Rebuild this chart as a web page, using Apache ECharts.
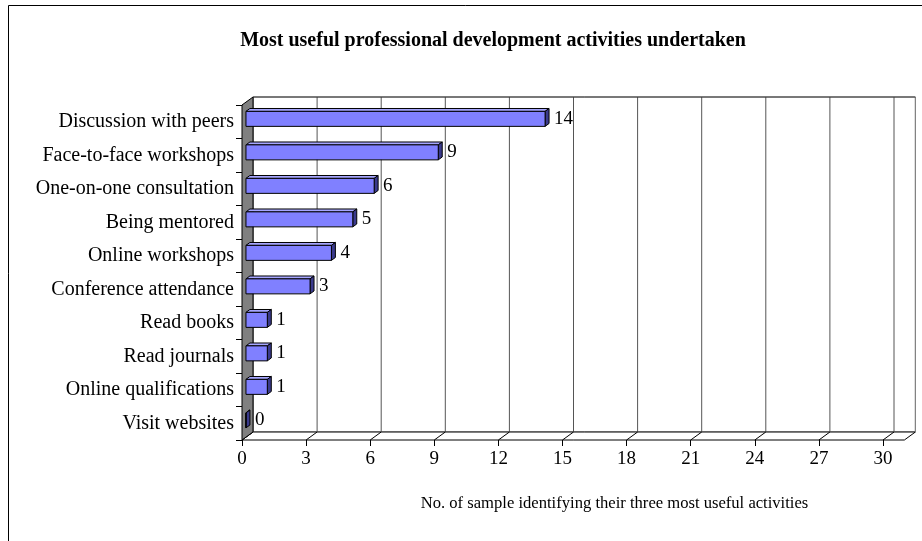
<!DOCTYPE html>
<html>
<head>
<meta charset="utf-8">
<script src="https://cdn.jsdelivr.net/npm/echarts@6/dist/echarts.min.js"></script>
<style>html,body{margin:0;padding:0;background:#fff;}#c{width:922px;height:541px;}</style>
</head>
<body>
<div id="c"></div>
<script>
var categories = ["Discussion with peers","Face-to-face workshops","One-on-one consultation","Being mentored","Online workshops","Conference attendance","Read books","Read journals","Online qualifications","Visit websites"];
var values = [14, 9, 6, 5, 4, 3, 1, 1, 1, 0];
var xTicks = [0, 3, 6, 9, 12, 15, 18, 21, 24, 27, 30];
var wallExtent = 31;

var DX = 11, DY = -8;
var F1 = 0.36, F2 = 0.72;
var BAR_H = 15;
var FONT = '"Liberation Serif","Times New Roman",serif';

var chart = echarts.init(document.getElementById('c'), null, {renderer: 'canvas'});

function frameRender(params, api) {
  var cs = params.coordSys;
  var top = cs.y, bottom = cs.y + cs.height;
  function X(v) { return api.coord([v, 0])[0]; }
  var x0 = X(0), xe = X(wallExtent);
  var children = [];
  children.push({type: 'rect', shape: {x: x0 + DX, y: top + DY, width: xe - x0, height: bottom - top}, style: {fill: '#fff', stroke: '#808080', lineWidth: 1}});
  children.push({type: 'polygon', shape: {points: [[x0, bottom], [xe, bottom], [xe + DX, bottom + DY], [x0 + DX, bottom + DY]]}, style: {fill: '#fff', stroke: '#000', lineWidth: 1}});
  xTicks.forEach(function (v) {
    var x = X(v);
    children.push({type: 'line', shape: {x1: x + DX, y1: top + DY, x2: x + DX, y2: bottom + DY}, style: {stroke: '#555', lineWidth: 1}});
    children.push({type: 'line', shape: {x1: x, y1: bottom, x2: x + DX, y2: bottom + DY}, style: {stroke: '#000', lineWidth: 1}});
  });
  children.push({type: 'line', shape: {x1: xe + DX, y1: top + DY, x2: xe + DX, y2: bottom + DY}, style: {stroke: '#808080', lineWidth: 1}});
  children.push({type: 'line', shape: {x1: x0 + DX, y1: top + DY, x2: xe + DX, y2: top + DY}, style: {stroke: '#333', lineWidth: 1}});
  children.push({type: 'polygon', shape: {points: [[x0, top], [x0 + DX, top + DY], [x0 + DX, bottom + DY], [x0, bottom]]}, style: {fill: '#808080', stroke: '#000', lineWidth: 1}});
  return {type: 'group', children: children};
}

function barRender(params, api) {
  var idx = api.value(0);
  var v = api.value(1);
  var p0 = api.coord([0, idx]);
  var pv = api.coord([v, idx]);
  var yc = p0[1];
  var ox1 = DX * F1, oy1 = DY * F1, ox2 = DX * F2, oy2 = DY * F2;
  var xa = p0[0] + ox1, xb = pv[0] + ox1;
  var yt1 = yc + oy1 - BAR_H / 2, yb1 = yc + oy1 + BAR_H / 2;
  var yt2 = yc + oy2 - BAR_H / 2, yb2 = yc + oy2 + BAR_H / 2;
  var xa2 = p0[0] + ox2, xb2 = pv[0] + ox2;
  var st = {stroke: '#000', lineWidth: 1, lineJoin: 'round'};
  return {type: 'group', children: [
    {type: 'polygon', shape: {points: [[xa, yt1], [xb, yt1], [xb2, yt2], [xa2, yt2]]}, style: Object.assign({fill: '#a6a6ff'}, st)},
    {type: 'polygon', shape: {points: [[xb, yt1], [xb2, yt2], [xb2, yb2], [xb, yb1]]}, style: Object.assign({fill: '#3a3a8c'}, st)},
    {type: 'rect', shape: {x: xa, y: yt1, width: xb - xa, height: BAR_H}, style: Object.assign({fill: '#8080ff'}, st)},
    {type: 'text', x: xb2 + 5, y: yc + oy1, style: {text: String(v), fill: '#000', font: '19px ' + FONT, textAlign: 'left', textVerticalAlign: 'middle'}}
  ]};
}

chart.setOption({
  animation: false,
  backgroundColor: '#fff',
  title: {
    text: 'Most useful professional development activities undertaken',
    left: 488, top: 26, textAlign: 'center',
    textStyle: {fontFamily: FONT, fontWeight: 'bold', fontSize: 20, color: '#000'}
  },
  graphic: [{type: 'rect', shape: {x: 8.5, y: 5.5, width: 1000, height: 1000}, style: {fill: 'none', stroke: '#000', lineWidth: 1}, z: -10}],
  grid: {left: 242, top: 105, width: 641, height: 335},
  xAxis: {
    type: 'value', min: 0, max: 30, interval: 3,
    axisLine: {show: false},
    axisTick: {show: true, length: 6, lineStyle: {color: '#000'}},
    splitLine: {show: false},
    axisLabel: {fontFamily: FONT, fontSize: 19, color: '#000', margin: 10},
    name: 'No. of sample identifying their three most useful activities',
    nameLocation: 'middle', nameGap: 55,
    nameTextStyle: {fontFamily: FONT, fontSize: 16.6, color: '#000', padding: [0, 0, 0, 104]}
  },
  yAxis: {
    type: 'category', data: categories, inverse: true,
    axisLine: {show: true, lineStyle: {color: '#000'}},
    axisTick: {show: true, length: 6, lineStyle: {color: '#000'}},
    axisLabel: {fontFamily: FONT, fontSize: 20, color: '#000', margin: 8},
    splitLine: {show: false}
  },
  series: [
    {type: 'custom', renderItem: frameRender, data: [[0, 0]], z: 1, silent: true},
    {type: 'custom', renderItem: barRender, data: values.map(function (v, i) { return [i, v]; }), encode: {x: 1, y: 0}, z: 5, silent: true}
  ]
});
</script>
</body>
</html>
